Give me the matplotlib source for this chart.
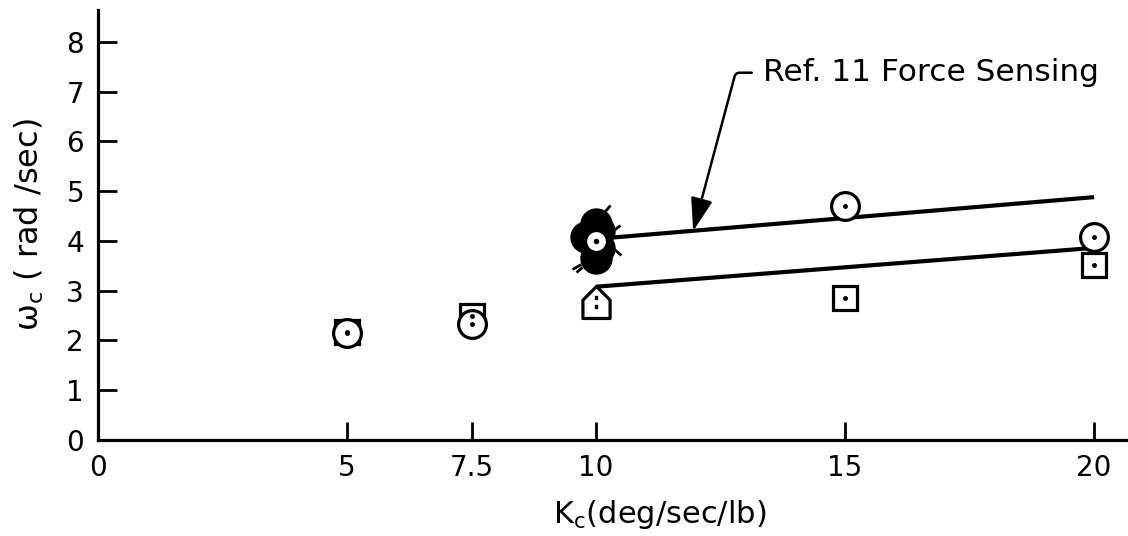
import matplotlib
matplotlib.use("Agg")
import matplotlib.pyplot as plt
from matplotlib.path import Path
import numpy as np

# ---- data ----
circle_x = [5, 7.5, 15, 20]
circle_y = [2.15, 2.33, 4.70, 4.08]
square_x = [5, 7.5, 15, 20]
square_y = [2.17, 2.50, 2.85, 3.52]
house_x = [10]
house_y = [2.78]
filled_x = [10.0, 9.80, 10.0, 10.05, 10.05]
filled_y = [4.34, 4.08, 3.66, 3.85, 4.20]
open_c_x = [10.0]
open_c_y = [4.00]
upper_line_x = [10, 20]
upper_line_y = [4.04, 4.88]
lower_line_x = [10, 20]
lower_line_y = [3.08, 3.86]
xtick_vals = [0, 5, 7.5, 10, 15, 20]
xtick_labels = ['0', '5', '7.5', '10', '15', '20']
ytick_vals = [0, 1, 2, 3, 4, 5, 6, 7, 8]
ytick_labels = ['0', '1', '2', '3', '4', '5', '6', '7', '8']
annot_text = 'Ref. 11 Force Sensing'
annot_target = (11.95, 4.20)

plt.rcParams['font.family'] = ['DejaVu Sans']

W, H = 1128, 536
fig = plt.figure(figsize=(W / 100, H / 100), dpi=100)
ax = fig.add_axes([98 / W, 96 / H, 1030 / W, 430 / H])
ax.set_xlim(0, 20.68)
ax.set_ylim(0, 8.64)

for s in ['top', 'right']:
    ax.spines[s].set_visible(False)
for s in ['left', 'bottom']:
    ax.spines[s].set_linewidth(2.3)

ax.set_xticks(xtick_vals)
ax.set_xticklabels(xtick_labels)
ax.set_yticks(ytick_vals)
ax.set_yticklabels(ytick_labels)
ax.tick_params(axis='x', direction='in', length=13, width=2.0, labelsize=20, pad=10)
ax.tick_params(axis='y', direction='in', length=14, width=2.0, labelsize=20, pad=10)

ax.set_ylabel(r'$\mathregular{\omega_c}$ ( rad /sec)', fontsize=23)
ax.yaxis.set_label_coords(-0.05, 0.5)
ax.set_xlabel(r'K$\mathregular{_c}$(deg/sec/lb)', fontsize=22)
ax.xaxis.set_label_coords(0.545, -0.135)

# trend lines
ax.plot(upper_line_x, upper_line_y, color='black', lw=3.0, zorder=2, solid_capstyle='butt')
ax.plot(lower_line_x, lower_line_y, color='black', lw=3.0, zorder=2, solid_capstyle='butt')

mk = dict(linestyle='none', markeredgecolor='black', markeredgewidth=2.3, clip_on=False)

# squares (behind circles)
ax.plot(square_x, square_y, marker='s', ms=17, markerfacecolor='white', zorder=3, **mk)
ax.plot(square_x, square_y, marker='o', ms=2.5, color='black', linestyle='none', zorder=6)
# circles
ax.plot(circle_x, circle_y, marker='o', ms=20, markerfacecolor='white', zorder=4, **mk)
ax.plot(circle_x, circle_y, marker='o', ms=2.5, color='black', linestyle='none', zorder=6)

# house shaped symbol
house = Path([(-0.85, -1), (0.85, -1), (0.85, 0.15), (0, 1), (-0.85, 0.15), (-0.85, -1)],
             [Path.MOVETO, Path.LINETO, Path.LINETO, Path.LINETO, Path.LINETO, Path.CLOSEPOLY])
ax.plot(house_x, house_y, marker=house, ms=23, markerfacecolor='white', zorder=4, **mk)
ax.plot(house_x, house_y, marker=r'$:$', ms=9, color='black', linestyle='none', zorder=6)

# cluster at K=10: filled circles, an open one on top, and flags
ax.plot(filled_x, filled_y, marker='o', ms=21, markerfacecolor='black', zorder=4, **mk)
ax.plot(open_c_x, open_c_y, marker='o', ms=16, markerfacecolor='white', zorder=5,
        linestyle='none', markeredgecolor='black', markeredgewidth=2.5)
ax.plot(open_c_x, open_c_y, marker='o', ms=3, color='black', linestyle='none', zorder=6)

segs = [((8, 29), (14, 36)), ((16, 10), (24, 16)), ((18, -8), (25, -14)),
        ((-24, -28), (-15, -23)), ((-20, -31), (-14, -26))]
verts, codes = [(-40, -40), (40, 40)], [Path.MOVETO, Path.MOVETO]
for a, b in segs:
    verts += [a, b]
    codes += [Path.MOVETO, Path.LINETO]
flags = Path(verts, codes)
ax.plot(open_c_x, open_c_y, marker=flags, ms=2 * 40 / (100 / 72), markerfacecolor='none',
        markeredgecolor='black', markeredgewidth=2.0, linestyle='none', zorder=6)

# annotation
ax.annotate(annot_text, xy=annot_target, xycoords='data',
            xytext=(13.35, 7.38), textcoords='data', fontsize=22.5, ha='left', va='center',
            arrowprops=dict(arrowstyle='-|>,head_length=0.9,head_width=0.3', color='black', lw=1.8,
                            shrinkA=6, shrinkB=0,
                            connectionstyle='angle,angleA=0,angleB=75,rad=4'))

fig.savefig('out.png', dpi=100)
